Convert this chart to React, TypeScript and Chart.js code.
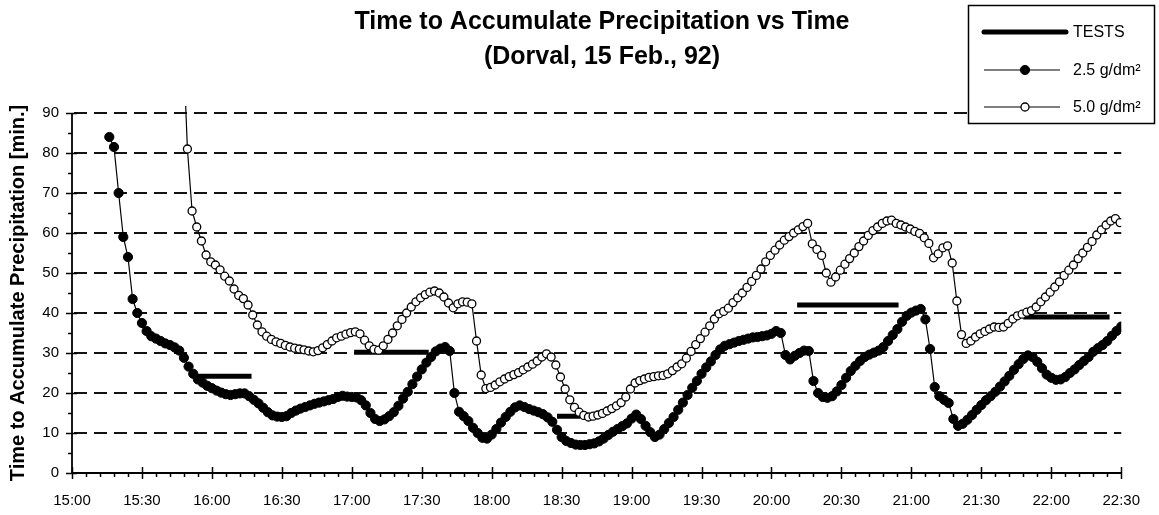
import { useEffect, useRef } from "react";
import { Chart, registerables } from "chart.js";

Chart.register(...registerables);

const FONT = "'Liberation Sans', Arial, Helvetica, sans-serif";

const TITLE_LINES = ["Time to Accumulate Precipitation vs Time", "(Dorval, 15 Feb., 92)"];
const Y_TITLE = "Time to Accumulate Precipitation [min.]";

// x axis: minutes after 15:00, labelled every 30 minutes
const TIME_LABELS = [
  "15:00", "15:30", "16:00", "16:30", "17:00", "17:30", "18:00", "18:30",
  "19:00", "19:30", "20:00", "20:30", "21:00", "21:30", "22:00", "22:30",
];
const Y_TICKS = [0, 10, 20, 30, 40, 50, 60, 70, 80, 90];

// readings are logged every 2 minutes
const SAMPLE_STEP_MIN = 2;

// 2.5 g/dm² : first reading at 15:16
const RATE_25_START_MIN = 16;
const RATE_25_VALUES = [
  84, 81.5, 70, 59, 54, 43.5, 40, 37.5, 35.5, 34.2,
  33.6, 33, 32.4, 32, 31.4, 30.6, 28.8, 26.6, 24.8, 23.4,
  22.6, 21.8, 21.2, 20.6, 20.1, 19.7, 19.5, 19.7, 19.9, 19.9,
  19.2, 18.3, 17.4, 16.3, 15.2, 14.4, 14.1, 14, 14.2, 15,
  15.6, 16.1, 16.5, 16.9, 17.3, 17.6, 17.9, 18.2, 18.5, 19,
  19.3, 19.1, 19, 18.9, 18.2, 16.9, 15, 13.5, 13, 13.4,
  14.2, 15.2, 16.8, 18.6, 20.3, 22.2, 24.1, 25.9, 27.6, 29,
  30.4, 31.1, 31.5, 30.5, 20, 15.3, 14.2, 13, 11.3, 10,
  8.8, 8.6, 9.6, 11, 12.6, 14, 15.3, 16.4, 16.9, 16.5,
  16, 15.6, 15.2, 14.7, 13.9, 12.8, 10.8, 9, 8, 7.5,
  7.1, 7, 7, 7.2, 7.4, 7.9, 8.6, 9.5, 10.3, 11,
  11.7, 12.4, 13.6, 14.6, 13.5, 11.8, 10.2, 9, 9.6, 11,
  12.5, 14, 15.8, 17.6, 19.5, 21.3, 23, 24.8, 26.4, 27.9,
  29.5, 30.9, 31.8, 32.2, 32.6, 33, 33.3, 33.6, 33.9, 34,
  34.2, 34.4, 34.8, 35.5, 35, 29.5, 28.4, 29.3, 30, 30.6,
  30.5, 23, 20, 19, 18.8, 19.2, 20.4, 22, 23.8, 25.5,
  26.8, 28, 29, 29.6, 30.1, 30.6, 31.5, 33, 34.5, 36,
  37.8, 39.3, 40.1, 40.6, 41, 38.4, 31, 21.5, 19.2, 18.3,
  17.5, 13.5, 11.8, 12.3, 13.3, 14.5, 15.8, 17, 18.2, 19.2,
  20.3, 21.6, 22.9, 24.3, 25.8, 27.2, 28.5, 29.4, 29, 27.8,
  26.2, 24.6, 23.8, 23.3, 23.4, 24, 25, 25.9, 27, 28,
  29, 30.3, 31.2, 32, 33, 34.3, 35.5, 36.6,
];

// 5.0 g/dm² : first reading at 15:47:30 (off the top of the scale)
const RATE_50_START_MIN = 47.5;
const RATE_50_VALUES = [
  110, 81, 65.5, 61.5, 58, 54.5, 52.8, 52, 50.8, 49.2,
  48, 46, 44.4, 43.6, 42, 39.5, 37, 35.3, 34.2, 33.4,
  32.8, 32.4, 31.9, 31.5, 31.2, 31, 30.8, 30.5, 30.3, 30.6,
  31.3, 32.1, 33, 33.8, 34.2, 34.7, 35.1, 35.3, 34.8, 33.2,
  31.8, 30.9, 30.7, 31.8, 33.4, 35, 36.8, 38.4, 40, 41.5,
  42.8, 43.8, 44.6, 45.2, 45.5, 45, 44, 42.5, 41.3, 42.3,
  42.8, 42.7, 42.3, 33, 24.5, 21.1, 21.4, 22, 22.8, 23.5,
  24.1, 24.6, 25.1, 25.8, 26.5, 27.2, 28, 29, 29.8, 29,
  27, 24, 21, 18.3, 16.4, 15.2, 14.4, 14, 14.2, 14.5,
  14.9, 15.5, 16.1, 16.8, 17.6, 19, 21, 22.5, 23.1, 23.5,
  23.9, 24.1, 24.3, 24.4, 24.8, 25.6, 26.5, 27.3, 28.7, 30.4,
  32.1, 33.6, 35.2, 36.8, 38.5, 39.8, 40.4, 41.2, 42.6, 43.8,
  45, 46.4, 47.9, 49.4, 51, 52.8, 54.4, 55.7, 57, 58.2,
  59.1, 60, 60.8, 61.6, 62.4, 57.3, 55.9, 54.4, 50, 47.7,
  49, 50.7, 52.2, 53.6, 55, 56.6, 58, 59.4, 60.6, 61.5,
  62.4, 63, 63.2, 62.4, 62, 61.5, 61, 60.4, 59.9, 58.8,
  57.4, 53.8, 54.8, 56.3, 56.8, 52.5, 43, 34.6, 32.4, 33,
  34, 34.8, 35.4, 36, 36.5, 36.4, 36.5, 37.4, 38.5, 39.3,
  39.7, 40.2, 40.6, 41.5, 42.8, 44, 45.2, 46.5, 47.8, 49.4,
  50.7, 52, 53.6, 55, 56.4, 57.9, 59.5, 60.8, 62, 63,
  63.6, 62.6,
];

// test periods (start / end in minutes after 15:00) and measured times
const TEST_START_MIN = [53, 121, 208, 311, 408];
const TEST_END_MIN = [77, 153, 218, 354.5, 445];
const TEST_VALUES = [24.2, 30.2, 14.2, 42, 39];

const seriesPoints = (start: number, values: number[]) =>
  values.map((v, i) => ({ x: start + i * SAMPLE_STEP_MIN, y: v }));

const testPoints = () => {
  const pts: { x: number; y: number | null }[] = [];
  TEST_VALUES.forEach((v, i) => {
    pts.push({ x: TEST_START_MIN[i], y: v });
    pts.push({ x: TEST_END_MIN[i], y: v });
    pts.push({ x: TEST_END_MIN[i] + 0.5, y: null });
  });
  return pts;
};

const framePlugin = {
  id: "frame",
  beforeDatasetsDraw(chart: any) {
    const { ctx, chartArea } = chart;
    const xs = chart.scales.x;
    const ys = chart.scales.y;
    const left = chartArea.left;
    const right = chartArea.right;
    const y0 = ys.getPixelForValue(0);
    ctx.save();
    // dashed horizontal grid
    ctx.strokeStyle = "#111";
    ctx.lineWidth = 2;
    ctx.setLineDash([13, 7]);
    for (const v of Y_TICKS) {
      if (v === 0) continue;
      const y = Math.round(ys.getPixelForValue(v));
      ctx.beginPath();
      ctx.moveTo(left + 2, y);
      ctx.lineTo(right, y);
      ctx.stroke();
    }
    ctx.setLineDash([]);
    // axis lines
    ctx.strokeStyle = "#000";
    ctx.lineWidth = 1.8;
    ctx.beginPath();
    ctx.moveTo(left, ys.getPixelForValue(90));
    ctx.lineTo(left, y0);
    ctx.lineTo(right, y0);
    ctx.stroke();
    // y tick marks: majors cross the axis, minors outside
    ctx.lineWidth = 1.5;
    for (let v = 0; v <= 90; v += 5) {
      const y = Math.round(ys.getPixelForValue(v)) + 0.5;
      const major = v % 10 === 0;
      ctx.beginPath();
      ctx.moveTo(left - (major ? 6 : 4), y);
      ctx.lineTo(left + (major ? 5 : 0), y);
      ctx.stroke();
    }
    // x tick marks: majors every 30 min, minors every 6 min
    for (let m = 0; m <= 450; m += 6) {
      const x = Math.round(xs.getPixelForValue(m)) + 0.5;
      const major = m % 30 === 0;
      ctx.beginPath();
      ctx.moveTo(x, y0 - (major ? 6 : 0));
      ctx.lineTo(x, y0 + (major ? 6 : 4));
      ctx.stroke();
    }
    ctx.restore();
  },
  afterDraw(chart: any) {
    const { ctx } = chart;
    ctx.save();
    ctx.fillStyle = "#000";
    // chart title
    ctx.font = `bold 25px ${FONT}`;
    ctx.textAlign = "center";
    ctx.textBaseline = "middle";
    ctx.fillText(TITLE_LINES[0], 602, 22);
    ctx.fillText(TITLE_LINES[1], 602, 57);
    // y axis title
    ctx.save();
    ctx.translate(18, 293);
    ctx.rotate(-Math.PI / 2);
    ctx.font = `bold 20px ${FONT}`;
    ctx.fillText(Y_TITLE, 0, 0);
    ctx.restore();
    // legend box
    const bx = 968, by = 5, bw = 186, bh = 118;
    ctx.fillStyle = "#fff";
    ctx.fillRect(bx, by, bw, bh);
    ctx.strokeStyle = "#000";
    ctx.lineWidth = 1.5;
    ctx.strokeRect(bx + 0.5, by + 0.5, bw, bh);
    const rows = [32, 70, 107];
    ctx.font = `16px ${FONT}`;
    ctx.textAlign = "left";
    chart.data.datasets.forEach((ds: any, i: number) => {
      const y = rows[i];
      ctx.strokeStyle = "#000";
      if (ds.pointRadius === 0) {
        ctx.lineWidth = ds.borderWidth;
        ctx.lineCap = "round";
        ctx.beginPath();
        ctx.moveTo(984, y);
        ctx.lineTo(1066, y);
        ctx.stroke();
        ctx.lineCap = "butt";
      } else {
        ctx.lineWidth = ds.borderWidth;
        ctx.beginPath();
        ctx.moveTo(984, y);
        ctx.lineTo(1060, y);
        ctx.stroke();
        ctx.beginPath();
        ctx.arc(1025, y, ds.pointRadius, 0, Math.PI * 2);
        ctx.fillStyle = ds.pointBackgroundColor;
        ctx.fill();
        ctx.lineWidth = ds.pointBorderWidth;
        ctx.stroke();
      }
      ctx.fillStyle = "#000";
      ctx.fillText(ds.label, 1073, y + 1);
    });
    ctx.restore();
  },
};

export default function App() {
  const canvasRef = useRef<HTMLCanvasElement | null>(null);

  useEffect(() => {
    document.body.style.margin = "0";
    const canvas = canvasRef.current;
    if (!canvas) return;
    const chart = new Chart(canvas, {
      type: "line",
      data: {
        datasets: [
          {
            label: "TESTS",
            data: testPoints(),
            borderColor: "#000",
            borderWidth: 5,
            pointRadius: 0,
            spanGaps: false,
            order: 3,
          } as any,
          {
            label: "2.5 g/dm²",
            data: seriesPoints(RATE_25_START_MIN, RATE_25_VALUES),
            borderColor: "#000",
            borderWidth: 1.2,
            pointRadius: 4.6,
            pointBackgroundColor: "#000",
            pointBorderColor: "#000",
            pointBorderWidth: 1,
            order: 2,
          },
          {
            label: "5.0 g/dm²",
            data: seriesPoints(RATE_50_START_MIN, RATE_50_VALUES),
            borderColor: "#000",
            borderWidth: 1.2,
            pointRadius: 4,
            pointBackgroundColor: "#fff",
            pointBorderColor: "#000",
            pointBorderWidth: 1.3,
            clip: { left: 0, top: 7, right: 0, bottom: 0 },
            order: 1,
          } as any,
        ],
      },
      options: {
        animation: false,
        responsive: false,
        devicePixelRatio: 1,
        layout: { padding: { top: 113, right: 25, left: 0, bottom: 0 } },
        plugins: { legend: { display: false }, title: { display: false }, tooltip: { enabled: false } },
        elements: { line: { tension: 0 } },
        scales: {
          x: {
            type: "linear",
            min: 0,
            max: 450,
            grid: { display: false, drawTicks: false },
            border: { display: false },
            ticks: {
              stepSize: 30,
              autoSkip: false,
              maxRotation: 0,
              padding: 19,
              color: "#000",
              font: { family: FONT, size: 15 },
              callback: (v: any) => TIME_LABELS[Math.round(Number(v) / 30)] ?? "",
            },
            afterFit: (s: any) => {
              s.height = 42;
            },
          },
          y: {
            min: 0,
            max: 90,
            grid: { display: false, drawTicks: false },
            border: { display: false },
            ticks: {
              stepSize: 10,
              padding: 13,
              color: "#000",
              font: { family: FONT, size: 15 },
            },
            afterFit: (s: any) => {
              s.width = 72;
            },
          },
        },
      },
      plugins: [framePlugin],
    });
    return () => chart.destroy();
  }, []);

  return (
    <div style={{ position: "fixed", left: 0, top: 0, width: 1159, height: 515, background: "#fff" }}>
      <canvas ref={canvasRef} width={1159} height={515} style={{ width: 1159, height: 515 }} />
    </div>
  );
}
